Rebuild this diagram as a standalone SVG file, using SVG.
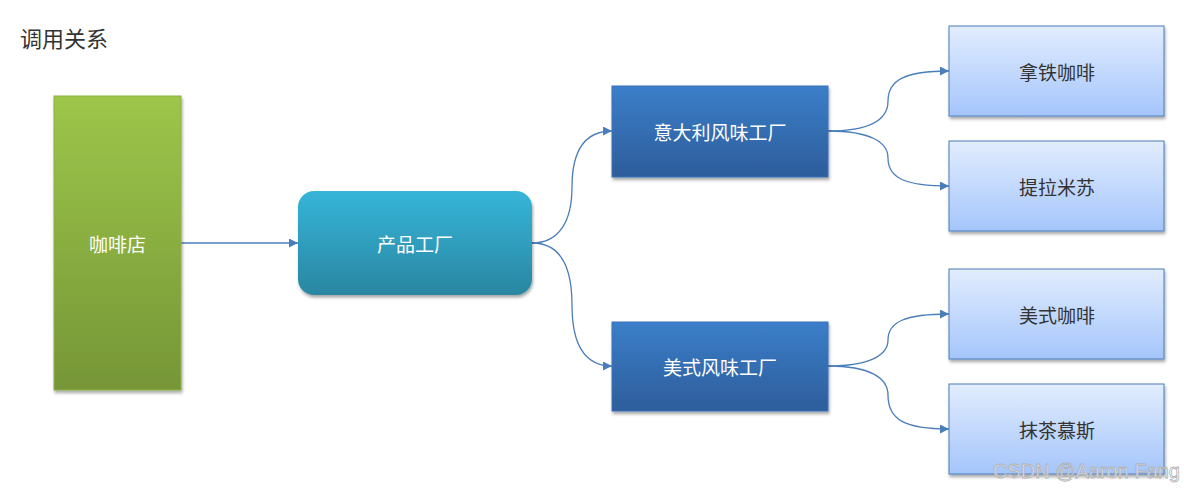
<svg xmlns="http://www.w3.org/2000/svg" width="1184" height="492" viewBox="0 0 1184 492">
<defs>
<linearGradient id="gGreen" x1="0" y1="0" x2="0" y2="1"><stop offset="0" stop-color="#9dc64a"/><stop offset="1" stop-color="#769637"/></linearGradient>
<linearGradient id="gTeal" x1="0" y1="0" x2="0" y2="1"><stop offset="0" stop-color="#35b5d9"/><stop offset="1" stop-color="#2a86a1"/></linearGradient>
<linearGradient id="gBlue" x1="0" y1="0" x2="0" y2="1"><stop offset="0" stop-color="#3b7ec9"/><stop offset="1" stop-color="#2d5d9b"/></linearGradient>
<linearGradient id="gLight" x1="0" y1="0" x2="0" y2="1"><stop offset="0" stop-color="#e2edfe"/><stop offset="1" stop-color="#a4c5fb"/></linearGradient>
<filter id="sh" x="-10%" y="-10%" width="125%" height="125%"><feDropShadow dx="1" dy="2.5" stdDeviation="1.8" flood-color="#000" flood-opacity="0.35"/></filter>
<marker id="arr" viewBox="0 0 10 10" refX="10" refY="5" markerWidth="9" markerHeight="9" markerUnits="userSpaceOnUse" orient="auto"><path d="M0,0 L10,5 L0,10 z" fill="#4a7ebb"/></marker>
</defs>
<style>
.lbl{font-family:"Noto Sans CJK SC","Noto Sans",sans-serif;font-size:19px;text-anchor:middle;dominant-baseline:central}
.w{fill:#ffffff}
.d{fill:#333333}
.c{fill:none;stroke:#4a7ebb;stroke-width:1.3}
</style>
<rect width="1184" height="492" fill="#ffffff"/>
<text x="20" y="47" style="font-family:'Noto Sans CJK SC',sans-serif;font-size:22px" fill="#333333">调用关系</text>
<g id="connectors">
<path class="c" d="M181,243 L298,243" marker-end="url(#arr)"/>
<path class="c" d="M532,243 C560,243 572,220 572,187 C572,150 585,131 612,131" marker-end="url(#arr)"/>
<path class="c" d="M532,243 C560,243 572,266 572,305 C572,345 585,366 612,366" marker-end="url(#arr)"/>
<path class="c" d="M828,131 C870,131 888,120 888,101 C888,80 905,71 949,71" marker-end="url(#arr)"/>
<path class="c" d="M828,131 C870,131 888,142 888,158 C888,178 905,186 949,186" marker-end="url(#arr)"/>
<path class="c" d="M828,366 C870,366 888,355 888,340 C888,322 905,314 949,314" marker-end="url(#arr)"/>
<path class="c" d="M828,366 C870,366 888,378 888,395 C888,420 905,429 949,429" marker-end="url(#arr)"/>
</g>
<g id="shop"><rect x="54" y="96" width="127" height="294" fill="url(#gGreen)" stroke="#8cb043" stroke-width="1" filter="url(#sh)"/><text class="lbl w" x="117.5" y="243">咖啡店</text></g>
<g id="factory"><rect x="298" y="191" width="234" height="104" rx="16" fill="url(#gTeal)" filter="url(#sh)"/><text class="lbl w" x="415" y="243">产品工厂</text></g>
<g id="italy"><rect x="612" y="86" width="216" height="91" fill="url(#gBlue)" stroke="#3a72b8" stroke-width="1" filter="url(#sh)"/><text class="lbl w" x="720" y="131">意大利风味工厂</text></g>
<g id="american"><rect x="612" y="322" width="216" height="89" fill="url(#gBlue)" stroke="#3a72b8" stroke-width="1" filter="url(#sh)"/><text class="lbl w" x="720" y="366">美式风味工厂</text></g>
<g id="latte"><rect x="949" y="26" width="215" height="90" fill="url(#gLight)" stroke="#4a7ebb" stroke-width="1" filter="url(#sh)"/><text class="lbl d" x="1057" y="71">拿铁咖啡</text></g>
<g id="tiramisu"><rect x="949" y="141" width="215" height="90" fill="url(#gLight)" stroke="#4a7ebb" stroke-width="1" filter="url(#sh)"/><text class="lbl d" x="1057" y="186">提拉米苏</text></g>
<g id="americano"><rect x="949" y="269" width="215" height="90" fill="url(#gLight)" stroke="#4a7ebb" stroke-width="1" filter="url(#sh)"/><text class="lbl d" x="1057" y="314">美式咖啡</text></g>
<g id="matcha"><rect x="949" y="384" width="215" height="90" fill="url(#gLight)" stroke="#4a7ebb" stroke-width="1" filter="url(#sh)"/><text class="lbl d" x="1057" y="429">抹茶慕斯</text></g>
<text x="1180" y="478" text-anchor="end" style="font-family:'Liberation Sans',sans-serif;font-size:20px" fill="#ffffff" fill-opacity="0.6" stroke="#b0b0b0" stroke-width="0.8">CSDN @Aaron Fang</text>
</svg>
